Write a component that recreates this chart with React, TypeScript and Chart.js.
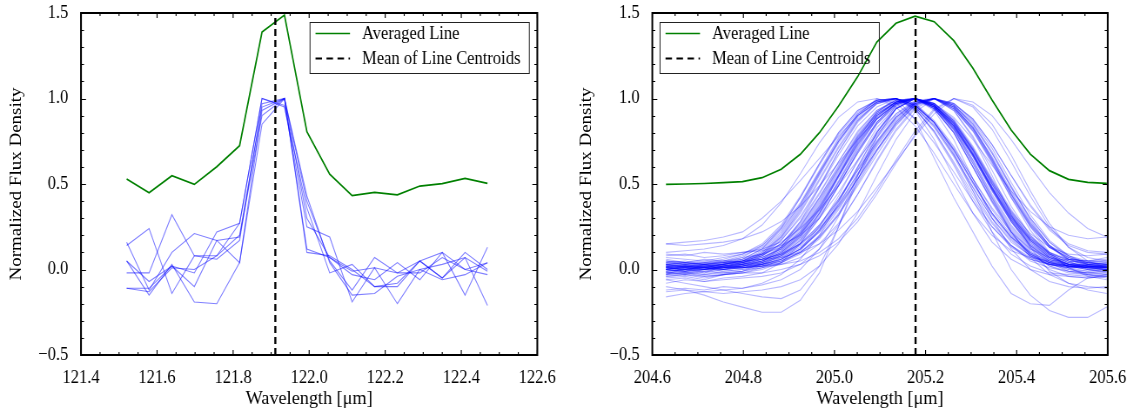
import React, { useEffect, useRef } from "react";
import { Chart, registerables } from "chart.js";

Chart.register(...registerables);

// ---------------- data ----------------
const LEFT_X_RANGE = [121.4, 122.6];
const RIGHT_X_RANGE = [204.6, 205.6];
const Y_RANGE = [-0.5, 1.5];
const X_MAJOR_STEP = 0.2;
const Y_MAJOR_STEP = 0.5;

const LEFT_WAVELENGTHS = [
  121.52, 121.579, 121.639, 121.698, 121.757, 121.817, 121.876, 121.935, 121.994,
  122.054, 122.113, 122.172, 122.232, 122.291, 122.35, 122.41, 122.469,
];
const LEFT_AVERAGED = [
  0.529, 0.449, 0.548, 0.498, 0.601, 0.724, 1.389, 1.488, 0.806, 0.558, 0.432, 0.451,
  0.437, 0.488, 0.502, 0.533, 0.504,
];
const LEFT_LINE_1 = [0.16, -0.12, 0.1, 0.21, 0.17, 0.04, 0.93, 1.0, 0.4, 0.05, -0.12, 0.07, -0.02, 0.05, 0.1, -0.15, 0.13];
const LEFT_LINE_2 = [0.14, 0.24, -0.14, 0.08, 0.08, 0.27, 1.0, 0.96, 0.25, 0.19, -0.19, 0.01, -0.2, 0.0, 0.03, 0.07, -0.21];
const LEFT_LINE_3 = [0.05, -0.07, 0.02, -0.02, 0.22, 0.27, 1.0, 0.95, 0.36, -0.02, 0.03, -0.1, -0.1, 0.05, -0.05, 0.07, -0.01];
const LEFT_LINE_4 = [-0.02, -0.02, 0.32, 0.08, 0.06, 0.17, 0.97, 1.0, 0.12, 0.07, -0.03, -0.06, 0.04, -0.06, 0.1, 0.0, 0.04];
const LEFT_LINE_5 = [-0.11, -0.11, 0.02, -0.1, 0.17, 0.19, 0.9, 1.0, 0.43, 0.04, -0.15, -0.14, -0.04, 0.0, -0.06, -0.03, 0.04];
const LEFT_LINE_6 = [0.05, -0.15, 0.03, -0.19, -0.2, 0.04, 0.85, 1.0, 0.3, 0.07, -0.01, 0.01, -0.02, -0.02, 0.07, 0.0, -0.03];
const LEFT_LINE_7 = [-0.11, -0.13, 0.01, 0.0, 0.08, 0.2, 0.95, 1.0, 0.1, 0.08, 0.0, -0.1, -0.08, 0.05, -0.05, 0.1, 0.0];
const LEFT_LINES = [LEFT_LINE_1, LEFT_LINE_2, LEFT_LINE_3, LEFT_LINE_4, LEFT_LINE_5, LEFT_LINE_6, LEFT_LINE_7];
const LEFT_CENTROID = 121.911;

const RIGHT_WAVELENGTHS = [
  204.63, 204.672, 204.714, 204.756, 204.798, 204.841, 204.883, 204.925, 204.967, 205.009,
  205.051, 205.093, 205.135, 205.177, 205.219, 205.262, 205.304, 205.346, 205.388, 205.43,
  205.472, 205.514, 205.556, 205.598,
];
const RIGHT_AVERAGED = [
  0.498, 0.5, 0.503, 0.508, 0.514, 0.537, 0.586, 0.674, 0.8, 0.956, 1.128, 1.33, 1.44, 1.482,
  1.449, 1.338, 1.177, 0.991, 0.816, 0.675, 0.578, 0.527, 0.51, 0.504,
];
// individual normalized line profiles (spread / outliers)
const RIGHT_LINES_SPREAD = [
  [0.02, -0.01, 0.03, 0.0, 0.01, 0.02, 0.05, 0.12, 0.25, 0.43, 0.64, 0.83, 0.95, 1.0, 0.96, 0.83, 0.64, 0.43, 0.25, 0.12, 0.05, 0.02, 0.01, 0.0],
  [-0.03, 0.01, -0.02, 0.02, 0.04, 0.08, 0.15, 0.28, 0.45, 0.63, 0.8, 0.93, 0.99, 1.0, 0.97, 0.87, 0.7, 0.5, 0.32, 0.18, 0.09, 0.04, 0.02, 0.03],
  [0.05, 0.03, 0.04, 0.06, 0.09, 0.15, 0.26, 0.43, 0.62, 0.8, 0.93, 0.99, 1.0, 0.94, 0.81, 0.62, 0.42, 0.25, 0.13, 0.06, 0.03, 0.01, 0.02, 0.01],
  [-0.08, -0.06, -0.07, -0.05, -0.04, -0.02, 0.04, 0.15, 0.33, 0.55, 0.76, 0.92, 1.0, 0.93, 0.76, 0.54, 0.33, 0.16, 0.06, 0.0, -0.03, -0.04, -0.05, -0.04],
  [0.0, 0.02, 0.01, -0.01, 0.0, 0.01, 0.03, 0.07, 0.15, 0.27, 0.44, 0.63, 0.81, 0.94, 1.0, 0.95, 0.83, 0.64, 0.44, 0.26, 0.13, 0.06, 0.03, 0.02],
  [0.08, 0.09, 0.07, 0.08, 0.1, 0.12, 0.16, 0.24, 0.35, 0.49, 0.64, 0.79, 0.91, 0.98, 1.0, 0.97, 0.88, 0.73, 0.55, 0.38, 0.24, 0.15, 0.11, 0.1],
  [-0.05, -0.04, -0.06, -0.03, -0.02, 0.0, 0.04, 0.11, 0.23, 0.4, 0.6, 0.8, 0.94, 1.0, 0.95, 0.82, 0.62, 0.41, 0.23, 0.1, 0.02, -0.02, -0.03, -0.02],
  [0.01, 0.0, 0.02, 0.03, 0.05, 0.1, 0.19, 0.34, 0.53, 0.72, 0.88, 0.97, 1.0, 0.96, 0.86, 0.7, 0.51, 0.33, 0.19, 0.09, 0.04, 0.02, 0.0, -0.01],
  [0.03, 0.01, 0.0, 0.02, 0.01, 0.02, 0.03, 0.05, 0.1, 0.18, 0.3, 0.46, 0.64, 0.81, 0.94, 1.0, 0.95, 0.82, 0.63, 0.43, 0.25, 0.13, 0.07, 0.05],
  [0.1, 0.11, 0.12, 0.14, 0.18, 0.26, 0.39, 0.56, 0.74, 0.89, 0.98, 1.0, 0.95, 0.84, 0.68, 0.5, 0.33, 0.2, 0.11, 0.07, 0.05, 0.06, 0.05, 0.07],
  [-0.12, -0.11, -0.12, -0.1, -0.11, -0.09, -0.06, 0.0, 0.12, 0.31, 0.55, 0.78, 0.94, 1.0, 0.93, 0.76, 0.53, 0.3, 0.12, 0.0, -0.07, -0.1, -0.11, -0.1],
  [0.04, 0.05, 0.03, 0.04, 0.05, 0.06, 0.09, 0.15, 0.24, 0.37, 0.53, 0.7, 0.86, 0.97, 1.0, 0.94, 0.81, 0.62, 0.42, 0.25, 0.13, 0.07, 0.04, 0.03],
  [0.0, -0.02, 0.0, 0.01, 0.02, 0.05, 0.1, 0.19, 0.33, 0.5, 0.68, 0.85, 0.96, 1.0, 0.96, 0.85, 0.68, 0.48, 0.3, 0.16, 0.07, 0.03, 0.01, 0.02],
  [-0.02, -0.03, -0.01, 0.0, 0.03, 0.08, 0.17, 0.31, 0.49, 0.69, 0.86, 0.97, 1.0, 0.95, 0.83, 0.66, 0.46, 0.28, 0.14, 0.05, 0.01, -0.01, -0.02, -0.01],
  [0.15, 0.14, 0.15, 0.16, 0.18, 0.22, 0.28, 0.37, 0.49, 0.62, 0.76, 0.88, 0.97, 1.0, 0.97, 0.89, 0.76, 0.61, 0.46, 0.34, 0.25, 0.2, 0.18, 0.19],
  [-0.06, -0.05, -0.07, -0.06, -0.05, -0.04, -0.02, 0.03, 0.12, 0.26, 0.44, 0.64, 0.82, 0.95, 1.0, 0.95, 0.82, 0.63, 0.42, 0.23, 0.09, 0.01, -0.03, -0.05],
  [-0.1, -0.12, -0.15, -0.19, -0.22, -0.25, -0.25, -0.18, -0.02, 0.25, 0.55, 0.8, 0.96, 1.0, 0.94, 0.8, 0.6, 0.4, 0.22, 0.08, 0.0, -0.04, -0.05, -0.04],
  [0.06, 0.04, 0.06, 0.05, 0.07, 0.09, 0.13, 0.21, 0.34, 0.51, 0.7, 0.86, 0.97, 1.0, 0.95, 0.84, 0.67, 0.47, 0.3, 0.17, 0.09, 0.06, 0.05, 0.06],
  [0.02, 0.01, 0.03, 0.04, 0.06, 0.12, 0.24, 0.42, 0.62, 0.8, 0.93, 0.99, 1.0, 0.88, 0.65, 0.42, 0.22, 0.02, -0.14, -0.2, -0.21, -0.12, -0.05, -0.03],
  [0.0, 0.02, 0.01, 0.03, 0.05, 0.09, 0.17, 0.3, 0.48, 0.67, 0.84, 0.95, 1.0, 0.97, 0.86, 0.68, 0.46, 0.22, 0.0, -0.15, -0.24, -0.28, -0.28, -0.22],
  [0.05, 0.04, 0.03, 0.05, 0.04, 0.06, 0.07, 0.1, 0.15, 0.23, 0.34, 0.48, 0.63, 0.78, 0.91, 1.0, 0.98, 0.9, 0.76, 0.6, 0.45, 0.33, 0.24, 0.19],
  [0.15, 0.16, 0.17, 0.19, 0.22, 0.3, 0.4, 0.52, 0.65, 0.78, 0.9, 1.0, 0.97, 0.88, 0.74, 0.57, 0.4, 0.25, 0.14, 0.07, 0.03, 0.02, 0.01, 0.02],
  [0.09, 0.08, 0.1, 0.09, 0.1, 0.11, 0.14, 0.2, 0.3, 0.45, 0.63, 0.81, 0.94, 1.0, 0.96, 0.86, 0.7, 0.51, 0.34, 0.21, 0.13, 0.09, 0.08, 0.09],
  [-0.01, 0.0, -0.02, 0.0, 0.01, 0.02, 0.05, 0.1, 0.19, 0.32, 0.49, 0.67, 0.84, 0.96, 1.0, 0.96, 0.85, 0.68, 0.48, 0.3, 0.16, 0.08, 0.04, 0.03],
  [0.03, 0.02, 0.01, 0.03, 0.05, 0.11, 0.21, 0.37, 0.56, 0.75, 0.9, 0.98, 1.0, 0.95, 0.84, 0.67, 0.48, 0.3, 0.16, 0.08, 0.04, 0.02, 0.03, 0.02],
  [-0.16, -0.14, -0.13, -0.12, -0.11, -0.08, -0.03, 0.06, 0.2, 0.39, 0.6, 0.8, 0.94, 1.0, 0.95, 0.82, 0.63, 0.42, 0.22, 0.07, -0.03, -0.08, -0.1, -0.11],
  [-0.13, -0.12, -0.13, -0.14, -0.13, -0.12, -0.1, -0.06, 0.02, 0.15, 0.33, 0.55, 0.76, 0.92, 1.0, 0.96, 0.84, 0.65, 0.44, 0.25, 0.1, 0.01, -0.04, -0.06],
  [0.03, 0.04, 0.02, 0.03, 0.04, 0.07, 0.12, 0.22, 0.37, 0.55, 0.73, 0.88, 0.97, 1.0, 0.94, 0.8, 0.6, 0.39, 0.21, 0.09, 0.03, 0.01, 0.02, 0.01],
  [0.01, -0.01, 0.0, 0.02, 0.01, 0.03, 0.06, 0.12, 0.22, 0.36, 0.53, 0.7, 0.85, 0.96, 1.0, 0.97, 0.88, 0.73, 0.55, 0.37, 0.23, 0.14, 0.1, 0.09],
  [-0.04, -0.03, -0.05, -0.03, -0.01, 0.04, 0.13, 0.28, 0.48, 0.69, 0.87, 0.98, 1.0, 0.94, 0.8, 0.61, 0.4, 0.22, 0.09, 0.02, -0.02, -0.03, -0.04, -0.03],
  [-0.03, -0.02, -0.04, -0.03, -0.02, -0.02, 0.0, 0.03, 0.08, 0.16, 0.28, 0.44, 0.62, 0.79, 0.93, 1.0, 0.96, 0.85, 0.67, 0.46, 0.27, 0.13, 0.05, 0.01],
  [0.01, 0.0, 0.01, 0.02, 0.03, 0.06, 0.13, 0.25, 0.42, 0.61, 0.79, 0.92, 0.99, 1.0, 0.95, 0.83, 0.66, 0.46, 0.28, 0.14, 0.06, 0.02, 0.0, 0.01],
  [0.02, 0.03, 0.01, 0.02, 0.03, 0.04, 0.07, 0.13, 0.23, 0.38, 0.56, 0.74, 0.89, 0.98, 1.0, 0.93, 0.78, 0.58, 0.37, 0.2, 0.09, 0.04, 0.02, 0.01],
  [-0.06, -0.08, -0.1, -0.12, -0.14, -0.16, -0.17, -0.12, 0.02, 0.25, 0.52, 0.77, 0.94, 1.0, 0.94, 0.8, 0.6, 0.4, 0.22, 0.09, 0.02, -0.01, -0.02, -0.01],
  [0.07, 0.06, 0.05, 0.07, 0.09, 0.14, 0.24, 0.39, 0.58, 0.77, 0.91, 0.99, 1.0, 0.96, 0.86, 0.71, 0.53, 0.36, 0.22, 0.12, 0.07, 0.05, 0.04, 0.05],
  [-0.02, -0.01, -0.03, -0.01, 0.0, 0.03, 0.08, 0.17, 0.31, 0.49, 0.68, 0.85, 0.96, 1.0, 0.97, 0.87, 0.71, 0.52, 0.33, 0.18, 0.08, 0.03, 0.01, 0.0],
  [0.0, 0.01, -0.01, 0.01, 0.02, 0.04, 0.08, 0.15, 0.26, 0.41, 0.58, 0.75, 0.89, 0.97, 1.0, 0.93, 0.77, 0.55, 0.32, 0.13, -0.01, -0.08, -0.12, -0.14],
];
// individual normalized line profiles (dense core)
const RIGHT_LINES_CORE = [
  [0.01, 0.02, 0.0, 0.01, 0.03, 0.06, 0.12, 0.23, 0.39, 0.58, 0.77, 0.91, 0.98, 1.0, 0.95, 0.84, 0.67, 0.47, 0.29, 0.15, 0.07, 0.03, 0.02, 0.01],
  [-0.01, 0.0, 0.01, 0.0, 0.02, 0.04, 0.09, 0.19, 0.35, 0.54, 0.74, 0.9, 0.98, 1.0, 0.96, 0.85, 0.68, 0.48, 0.3, 0.16, 0.07, 0.03, 0.01, 0.0],
  [0.0, 0.01, 0.0, 0.02, 0.04, 0.09, 0.18, 0.33, 0.52, 0.71, 0.87, 0.97, 1.0, 0.97, 0.87, 0.72, 0.53, 0.35, 0.2, 0.1, 0.04, 0.02, 0.01, 0.02],
  [0.02, 0.01, 0.02, 0.01, 0.02, 0.03, 0.06, 0.12, 0.22, 0.37, 0.55, 0.73, 0.88, 0.97, 1.0, 0.95, 0.83, 0.65, 0.45, 0.27, 0.14, 0.06, 0.03, 0.02],
  [0.03, 0.02, 0.03, 0.04, 0.05, 0.08, 0.14, 0.25, 0.41, 0.59, 0.77, 0.91, 0.98, 1.0, 0.97, 0.88, 0.72, 0.53, 0.35, 0.2, 0.1, 0.05, 0.03, 0.03],
  [-0.02, -0.01, 0.0, 0.01, 0.01, 0.03, 0.08, 0.17, 0.32, 0.51, 0.71, 0.88, 0.97, 1.0, 0.94, 0.81, 0.62, 0.42, 0.24, 0.11, 0.04, 0.01, -0.01, 0.0],
  [0.01, 0.0, 0.02, 0.03, 0.06, 0.12, 0.22, 0.38, 0.57, 0.76, 0.91, 0.99, 1.0, 0.95, 0.84, 0.67, 0.48, 0.3, 0.17, 0.08, 0.03, 0.01, 0.01, 0.0],
  [0.0, -0.01, 0.01, 0.0, 0.01, 0.02, 0.04, 0.09, 0.18, 0.32, 0.5, 0.69, 0.85, 0.96, 1.0, 0.97, 0.87, 0.71, 0.51, 0.32, 0.17, 0.08, 0.03, 0.01],
  [0.02, 0.03, 0.02, 0.02, 0.04, 0.07, 0.13, 0.24, 0.4, 0.59, 0.78, 0.92, 0.99, 1.0, 0.95, 0.83, 0.66, 0.46, 0.28, 0.14, 0.06, 0.03, 0.02, 0.02],
  [0.0, 0.01, 0.0, 0.02, 0.03, 0.06, 0.11, 0.21, 0.36, 0.55, 0.74, 0.89, 0.98, 1.0, 0.97, 0.87, 0.71, 0.52, 0.34, 0.19, 0.09, 0.04, 0.02, 0.01],
  [0.04, 0.03, 0.04, 0.05, 0.08, 0.13, 0.23, 0.38, 0.57, 0.75, 0.9, 0.98, 1.0, 0.96, 0.86, 0.7, 0.51, 0.33, 0.19, 0.1, 0.05, 0.03, 0.03, 0.04],
  [-0.01, 0.0, 0.0, 0.01, 0.01, 0.03, 0.06, 0.12, 0.23, 0.38, 0.56, 0.74, 0.89, 0.98, 1.0, 0.95, 0.83, 0.66, 0.46, 0.28, 0.14, 0.06, 0.02, 0.0],
  [0.01, 0.0, 0.01, 0.01, 0.02, 0.05, 0.1, 0.2, 0.35, 0.54, 0.73, 0.89, 0.98, 1.0, 0.96, 0.84, 0.67, 0.47, 0.29, 0.15, 0.06, 0.02, 0.01, 0.01],
  [0.03, 0.04, 0.03, 0.03, 0.05, 0.08, 0.15, 0.27, 0.44, 0.63, 0.81, 0.93, 0.99, 1.0, 0.96, 0.86, 0.7, 0.51, 0.33, 0.19, 0.1, 0.05, 0.04, 0.03],
  [-0.01, 0.0, 0.01, 0.01, 0.04, 0.09, 0.19, 0.35, 0.55, 0.74, 0.89, 0.98, 1.0, 0.96, 0.85, 0.69, 0.5, 0.32, 0.18, 0.08, 0.03, 0.0, -0.01, 0.0],
  [0.01, 0.02, 0.01, 0.01, 0.02, 0.03, 0.05, 0.1, 0.19, 0.33, 0.51, 0.7, 0.86, 0.97, 1.0, 0.96, 0.86, 0.69, 0.49, 0.3, 0.16, 0.07, 0.03, 0.02],
  [0.0, -0.01, 0.0, 0.0, 0.01, 0.04, 0.09, 0.18, 0.33, 0.52, 0.72, 0.88, 0.97, 1.0, 0.97, 0.86, 0.69, 0.5, 0.31, 0.17, 0.07, 0.02, 0.0, 0.0],
  [0.02, 0.01, 0.02, 0.03, 0.04, 0.07, 0.12, 0.22, 0.38, 0.57, 0.76, 0.9, 0.98, 1.0, 0.95, 0.82, 0.64, 0.44, 0.26, 0.13, 0.05, 0.02, 0.01, 0.01],
  [-0.03, -0.02, -0.03, -0.02, -0.01, 0.02, 0.07, 0.16, 0.3, 0.49, 0.69, 0.86, 0.97, 1.0, 0.96, 0.85, 0.68, 0.48, 0.29, 0.14, 0.05, 0.0, -0.02, -0.03],
  [0.03, 0.02, 0.03, 0.02, 0.03, 0.05, 0.08, 0.14, 0.25, 0.4, 0.58, 0.75, 0.9, 0.98, 1.0, 0.94, 0.81, 0.63, 0.43, 0.26, 0.13, 0.07, 0.04, 0.03],
  [0.02, 0.02, 0.03, 0.04, 0.07, 0.14, 0.25, 0.42, 0.61, 0.79, 0.92, 0.99, 1.0, 0.94, 0.81, 0.63, 0.44, 0.27, 0.14, 0.06, 0.03, 0.02, 0.02, 0.01],
  [0.01, 0.01, 0.02, 0.01, 0.03, 0.05, 0.11, 0.21, 0.37, 0.56, 0.75, 0.9, 0.98, 1.0, 0.96, 0.85, 0.69, 0.49, 0.31, 0.17, 0.08, 0.03, 0.02, 0.02],
  [0.05, 0.04, 0.05, 0.05, 0.06, 0.09, 0.15, 0.26, 0.42, 0.6, 0.78, 0.91, 0.98, 1.0, 0.95, 0.84, 0.67, 0.48, 0.31, 0.18, 0.1, 0.06, 0.05, 0.05],
  [-0.02, -0.02, -0.01, -0.02, -0.01, 0.01, 0.04, 0.1, 0.2, 0.35, 0.53, 0.72, 0.87, 0.97, 1.0, 0.96, 0.85, 0.68, 0.48, 0.29, 0.14, 0.05, 0.0, -0.02],
  [0.0, 0.01, 0.01, 0.0, 0.02, 0.05, 0.1, 0.2, 0.36, 0.55, 0.75, 0.9, 0.98, 1.0, 0.96, 0.86, 0.7, 0.5, 0.32, 0.17, 0.08, 0.03, 0.01, 0.0],
  [0.01, 0.02, 0.01, 0.03, 0.05, 0.1, 0.2, 0.36, 0.56, 0.75, 0.9, 0.98, 1.0, 0.96, 0.86, 0.7, 0.51, 0.33, 0.19, 0.09, 0.04, 0.02, 0.02, 0.01],
  [-0.04, -0.03, -0.04, -0.03, -0.02, 0.01, 0.06, 0.15, 0.3, 0.49, 0.69, 0.86, 0.97, 1.0, 0.96, 0.84, 0.67, 0.47, 0.28, 0.13, 0.04, -0.01, -0.03, -0.04],
  [0.04, 0.03, 0.04, 0.04, 0.05, 0.06, 0.09, 0.15, 0.26, 0.41, 0.59, 0.77, 0.91, 0.99, 1.0, 0.94, 0.82, 0.64, 0.44, 0.27, 0.14, 0.08, 0.05, 0.04],
];
const RIGHT_LINES = [...RIGHT_LINES_SPREAD, ...RIGHT_LINES_CORE];
const RIGHT_CENTROID = 205.178;

const LEGEND_LABELS = ["Averaged Line", "Mean of Line Centroids"];
const X_TITLE = "Wavelength [μm]";
const Y_TITLE = "Normalized Flux Density";

// ---------------- styling / layout ----------------
const FONT = "'Liberation Serif', 'Times New Roman', 'DejaVu Serif', serif";
const FONT_SIZE = 19;
const GREEN = "#008000";
const DASH = [7, 4];
const PANEL_W = 570; // on-screen width of each panel
const INNER_W = 655; // drawing width (the figure is horizontally condensed)
const SQ = PANEL_W / INNER_W;

function fmt(v: number) {
  const s = (Math.round(v * 10) / 10).toFixed(1);
  return s.replace("-", "\u2212");
}

const framePlugin = {
  id: "mplFrame",
  afterDraw(chart: any, _args: any, opts: any) {
    const { ctx, chartArea: a, scales } = chart;
    const xs = scales.x;
    const ys = scales.y;
    ctx.save();
    ctx.strokeStyle = "#000";
    ctx.lineWidth = 1.15;
    const nx = Math.round((xs.max - xs.min) / 0.05);
    for (let i = 0; i <= nx; i++) {
      const px = xs.getPixelForValue(xs.min + i * 0.05);
      const len = i % 4 === 0 ? 5 : 3;
      ctx.beginPath();
      ctx.moveTo(px, a.bottom);
      ctx.lineTo(px, a.bottom - len);
      ctx.moveTo(px, a.top);
      ctx.lineTo(px, a.top + len);
      ctx.stroke();
    }
    ctx.lineWidth = 1;
    const ny = Math.round((ys.max - ys.min) / 0.1);
    for (let i = 0; i <= ny; i++) {
      const py = Math.round(ys.getPixelForValue(ys.min + i * 0.1)) + 0.5;
      const len = (i % 5 === 0 ? 5 : 3) / SQ;
      ctx.beginPath();
      ctx.moveTo(a.left, py);
      ctx.lineTo(a.left + len, py);
      ctx.moveTo(a.right, py);
      ctx.lineTo(a.right - len, py);
      ctx.stroke();
    }
    ctx.lineWidth = 2;
    ctx.strokeRect(a.left, a.top, a.right - a.left, a.bottom - a.top);

    // x axis title (slightly wider glyphs than the tick labels in the original)
    ctx.fillStyle = "#000";
    ctx.font = `${FONT_SIZE}px ${FONT}`;
    ctx.textBaseline = "middle";
    ctx.textAlign = "center";
    ctx.save();
    ctx.translate((a.left + a.right) / 2, 399.5);
    ctx.scale(1.1, 1);
    ctx.fillText(X_TITLE, 0, 0);
    ctx.restore();

    // legend
    const bx = a.left + opts.legendOffset;
    const by = 22;
    const bw = 219.3 / SQ;
    const bh = 51;
    ctx.lineWidth = 1;
    ctx.strokeStyle = "#222";
    ctx.strokeRect(bx, by + 0.5, bw, bh);
    const rows = [33.5, 58.5];
    const s0 = bx + 5.5 / SQ;
    const s1 = bx + 40 / SQ;
    ctx.lineWidth = 1.6;
    ctx.strokeStyle = GREEN;
    ctx.beginPath();
    ctx.moveTo(s0, rows[0]);
    ctx.lineTo(s1, rows[0]);
    ctx.stroke();
    ctx.lineWidth = 2;
    ctx.strokeStyle = "#000";
    ctx.setLineDash([6.5 / SQ, 4.5 / SQ]);
    ctx.beginPath();
    ctx.moveTo(s0, rows[1]);
    ctx.lineTo(s1, rows[1]);
    ctx.stroke();
    ctx.setLineDash([]);
    ctx.textAlign = "left";
    ctx.fillText(LEGEND_LABELS[0], bx + 52 / SQ, rows[0] + 1);
    ctx.fillText(LEGEND_LABELS[1], bx + 52 / SQ, rows[1] + 1);
    ctx.restore();
  },
};

function buildConfig(
  xs: number[],
  avg: number[],
  lines: number[][],
  centroid: number,
  xRange: number[],
  plotLeft: number,
  plotRight: number,
  blueAlpha: number,
  legendLeft: number
): any {
  const blue = `rgba(0,0,255,${blueAlpha})`;
  const yAxisWidth = plotLeft / SQ;
  const padRight = INNER_W - plotRight / SQ;
  const legendOffset = (legendLeft - plotLeft) / SQ;
  const datasets: any[] = [
    {
      data: [
        { x: centroid, y: Y_RANGE[0] },
        { x: centroid, y: Y_RANGE[1] },
      ],
      borderColor: "#000",
      borderWidth: 2.4,
      borderDash: DASH,
      pointRadius: 0,
      order: 0,
    },
    {
      data: xs.map((x, i) => ({ x, y: avg[i] })),
      borderColor: GREEN,
      borderWidth: 1.7,
      pointRadius: 0,
      order: 1,
    },
  ];
  lines.forEach((vals) => {
    datasets.push({
      data: xs.map((x, i) => ({ x, y: vals[i] })),
      borderColor: blue,
      borderWidth: 1.1,
      pointRadius: 0,
      order: 2,
    });
  });
  const tickFont = { family: FONT, size: FONT_SIZE };
  return {
    type: "line",
    data: { datasets },
    options: {
      animation: false,
      responsive: false,
      devicePixelRatio: 1,
      layout: { padding: { left: 0, right: padRight, top: 13, bottom: 0 } },
      elements: { line: { tension: 0 } },
      plugins: {
        legend: { display: false },
        tooltip: { enabled: false },
        mplFrame: { legendOffset },
      },
      scales: {
        x: {
          type: "linear",
          min: xRange[0],
          max: xRange[1],
          ticks: {
            stepSize: X_MAJOR_STEP,
            padding: 12,
            color: "#000",
            font: tickFont,
            maxRotation: 0,
            autoSkip: false,
            callback: (v: number) => fmt(v),
          },
          grid: { display: false, drawTicks: false },
          border: { display: false },
          title: { display: false },
          afterFit: (s: any) => {
            s.height = 59;
            s.paddingLeft = 0;
            s.paddingRight = 0;
          },
        },
        y: {
          type: "linear",
          min: Y_RANGE[0],
          max: Y_RANGE[1],
          ticks: {
            stepSize: Y_MAJOR_STEP,
            padding: 14.5,
            color: "#000",
            font: tickFont,
            callback: (v: number) => fmt(v),
          },
          grid: { display: false, drawTicks: false },
          border: { display: false },
          title: {
            display: true,
            text: Y_TITLE,
            color: "#000",
            font: tickFont,
            padding: { top: 8, bottom: 0 },
          },
          afterFit: (s: any) => {
            s.width = yAxisWidth;
            s.paddingTop = 0;
            s.paddingBottom = 0;
          },
        },
      },
    },
    plugins: [framePlugin],
  };
}

function Panel({ config }: { config: () => any }) {
  const ref = useRef<HTMLCanvasElement | null>(null);
  useEffect(() => {
    if (!ref.current) return;
    const chart = new Chart(ref.current, config());
    return () => chart.destroy();
  }, []);
  return (
    <canvas
      ref={ref}
      width={INNER_W}
      height={414}
      style={{ display: "block", width: PANEL_W, height: 414 }}
    />
  );
}

export default function App() {
  return (
    <div
      style={{
        position: "fixed",
        left: 0,
        top: 0,
        width: 1140,
        height: 414,
        background: "#fff",
        overflow: "hidden",
      }}
    >
      <div style={{ position: "absolute", left: 0, top: 0 }}>
        <Panel
          config={() =>
            buildConfig(LEFT_WAVELENGTHS, LEFT_AVERAGED, LEFT_LINES, LEFT_CENTROID, LEFT_X_RANGE, 81, 537.3, 0.5, 310)
          }
        />
      </div>
      <div style={{ position: "absolute", left: PANEL_W, top: 0 }}>
        <Panel
          config={() =>
            buildConfig(RIGHT_WAVELENGTHS, RIGHT_AVERAGED, RIGHT_LINES, RIGHT_CENTROID, RIGHT_X_RANGE, 82.3, 537.7, 0.28, 90)
          }
        />
      </div>
    </div>
  );
}
